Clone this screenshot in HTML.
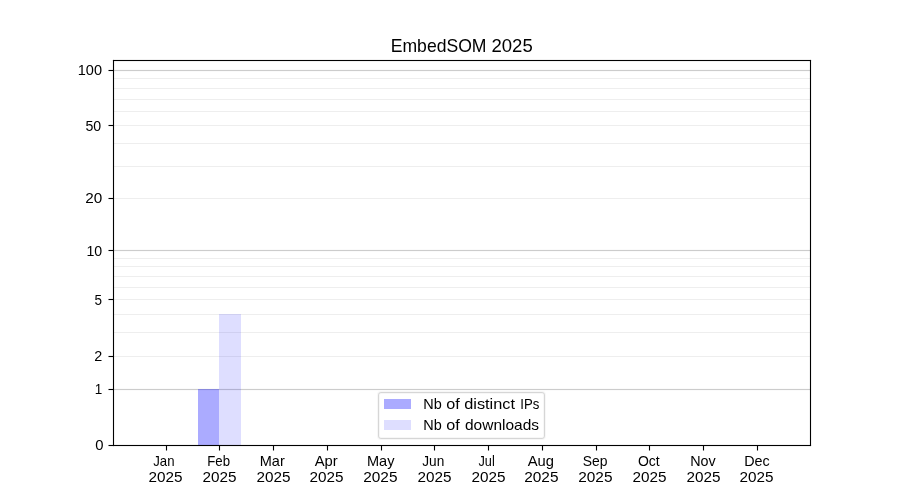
<!DOCTYPE html>
<html lang="en">
<head>
<meta charset="utf-8">
<title>EmbedSOM 2025</title>
<style>
html,body{margin:0;padding:0;background:#ffffff;}
body{width:900px;height:500px;overflow:hidden;font-family:"Liberation Sans",sans-serif;}
svg{display:block;will-change:transform;}
svg text{font-family:"Liberation Sans",sans-serif;fill:#000000;}
.txt{filter:grayscale(1);}
</style>
</head>
<body>
<svg width="900" height="500" viewBox="0 0 900 500">
<rect x="0" y="0" width="900" height="500" fill="#ffffff"/>
<!-- minor gridlines (log1p y-scale) -->
<g stroke="#eeeeee" stroke-width="1" shape-rendering="crispEdges">
<line x1="113.5" x2="810.5" y1="356.5" y2="356.5"/>
<line x1="113.5" x2="810.5" y1="332.5" y2="332.5"/>
<line x1="113.5" x2="810.5" y1="314.5" y2="314.5"/>
<line x1="113.5" x2="810.5" y1="299.5" y2="299.5"/>
<line x1="113.5" x2="810.5" y1="287.5" y2="287.5"/>
<line x1="113.5" x2="810.5" y1="276.5" y2="276.5"/>
<line x1="113.5" x2="810.5" y1="266.5" y2="266.5"/>
<line x1="113.5" x2="810.5" y1="258.5" y2="258.5"/>
<line x1="113.5" x2="810.5" y1="198.5" y2="198.5"/>
<line x1="113.5" x2="810.5" y1="166.5" y2="166.5"/>
<line x1="113.5" x2="810.5" y1="143.5" y2="143.5"/>
<line x1="113.5" x2="810.5" y1="125.5" y2="125.5"/>
<line x1="113.5" x2="810.5" y1="111.5" y2="111.5"/>
<line x1="113.5" x2="810.5" y1="99.5" y2="99.5"/>
<line x1="113.5" x2="810.5" y1="88.5" y2="88.5"/>
<line x1="113.5" x2="810.5" y1="78.5" y2="78.5"/>
</g>
<!-- major gridlines at 1, 10, 100 -->
<g stroke-width="1" shape-rendering="crispEdges">
<line x1="113.5" x2="810.5" y1="388.5" y2="388.5" stroke="#fbfbfb"/>
<line x1="113.5" x2="810.5" y1="389.5" y2="389.5" stroke="#cccccc"/>
<line x1="113.5" x2="810.5" y1="390.5" y2="390.5" stroke="#fbfbfb"/>
<line x1="113.5" x2="810.5" y1="249.5" y2="249.5" stroke="#fbfbfb"/>
<line x1="113.5" x2="810.5" y1="250.5" y2="250.5" stroke="#cccccc"/>
<line x1="113.5" x2="810.5" y1="251.5" y2="251.5" stroke="#fbfbfb"/>
<line x1="113.5" x2="810.5" y1="69.5" y2="69.5" stroke="#fbfbfb"/>
<line x1="113.5" x2="810.5" y1="70.5" y2="70.5" stroke="#cccccc"/>
<line x1="113.5" x2="810.5" y1="71.5" y2="71.5" stroke="#fbfbfb"/>
</g>
<!-- bars: Feb 2025 -->
<g shape-rendering="crispEdges" fill="#0000ff">
<rect x="198" y="389" width="21" height="56" fill-opacity="0.33"/>
<rect x="219" y="314" width="22" height="131" fill-opacity="0.13"/>
</g>
<!-- axes frame and ticks -->
<g fill="#000000">
<rect x="112.945" y="59.945" width="1.11" height="386.11"/>
<rect x="809.945" y="59.945" width="1.11" height="386.11"/>
<rect x="112.945" y="444.945" width="698.11" height="1.11"/>
<rect x="112.945" y="59.945" width="698.11" height="1.11"/>
<rect x="108.5" y="444.945" width="5" height="1.11"/>
<rect x="108.5" y="388.945" width="5" height="1.11"/>
<rect x="108.5" y="355.945" width="5" height="1.11"/>
<rect x="108.5" y="298.945" width="5" height="1.11"/>
<rect x="108.5" y="249.945" width="5" height="1.11"/>
<rect x="108.5" y="197.945" width="5" height="1.11"/>
<rect x="108.5" y="124.945" width="5" height="1.11"/>
<rect x="108.5" y="69.945" width="5" height="1.11"/>
<rect x="165.945" y="445.5" width="1.11" height="5"/>
<rect x="218.945" y="445.5" width="1.11" height="5"/>
<rect x="272.945" y="445.5" width="1.11" height="5"/>
<rect x="326.945" y="445.5" width="1.11" height="5"/>
<rect x="380.945" y="445.5" width="1.11" height="5"/>
<rect x="433.945" y="445.5" width="1.11" height="5"/>
<rect x="487.945" y="445.5" width="1.11" height="5"/>
<rect x="541.945" y="445.5" width="1.11" height="5"/>
<rect x="595.945" y="445.5" width="1.11" height="5"/>
<rect x="648.945" y="445.5" width="1.11" height="5"/>
<rect x="702.945" y="445.5" width="1.11" height="5"/>
<rect x="756.945" y="445.5" width="1.11" height="5"/>
</g>
<!-- legend -->
<rect x="378.5" y="392.5" width="166" height="46" rx="2.4" ry="2.4" fill="#ffffff" fill-opacity="0.8" stroke="#cccccc" stroke-opacity="0.157" stroke-width="3"/>
<rect x="378.5" y="392.5" width="166" height="46" rx="2.4" ry="2.4" fill="none" stroke="#cccccc" stroke-opacity="0.767" stroke-width="1"/>
<g shape-rendering="crispEdges" fill="#0000ff">
<rect x="384" y="399" width="27" height="10" fill-opacity="0.33"/>
<rect x="384" y="420" width="27" height="10" fill-opacity="0.13"/>
</g>
<!-- text -->
<g class="txt">
<text><tspan x="390.75" y="52.00" font-size="18.10" textLength="95.75" lengthAdjust="spacingAndGlyphs">EmbedSOM</tspan> <tspan x="491.50" y="52.00" font-size="18.10" textLength="41.25" lengthAdjust="spacingAndGlyphs">2025</tspan></text>
<text x="95.25" y="450.00" font-size="14.20" textLength="8.25" lengthAdjust="spacingAndGlyphs">0</text>
<text x="94.75" y="394.00" font-size="14.20" textLength="7.50" lengthAdjust="spacingAndGlyphs">1</text>
<text x="94.25" y="361.00" font-size="14.20" textLength="8.00" lengthAdjust="spacingAndGlyphs">2</text>
<text x="94.50" y="305.00" font-size="14.20" textLength="7.50" lengthAdjust="spacingAndGlyphs">5</text>
<text x="86.50" y="256.00" font-size="14.20" textLength="15.75" lengthAdjust="spacingAndGlyphs">10</text>
<text x="85.25" y="203.00" font-size="14.20" textLength="17.00" lengthAdjust="spacingAndGlyphs">20</text>
<text x="85.50" y="131.00" font-size="14.20" textLength="15.75" lengthAdjust="spacingAndGlyphs">50</text>
<text x="77.75" y="75.00" font-size="14.20" textLength="24.25" lengthAdjust="spacingAndGlyphs">100</text>
<text x="153.25" y="466.00" font-size="14.20" textLength="21.25" lengthAdjust="spacingAndGlyphs">Jan</text>
<text x="148.50" y="482.00" font-size="14.20" textLength="34.00" lengthAdjust="spacingAndGlyphs">2025</text>
<text x="207.25" y="466.00" font-size="14.20" textLength="22.75" lengthAdjust="spacingAndGlyphs">Feb</text>
<text x="202.50" y="482.00" font-size="14.20" textLength="34.00" lengthAdjust="spacingAndGlyphs">2025</text>
<text x="259.75" y="466.00" font-size="14.20" textLength="25.00" lengthAdjust="spacingAndGlyphs">Mar</text>
<text x="256.50" y="482.00" font-size="14.20" textLength="34.00" lengthAdjust="spacingAndGlyphs">2025</text>
<text x="314.75" y="466.00" font-size="14.20" textLength="23.00" lengthAdjust="spacingAndGlyphs">Apr</text>
<text x="309.50" y="482.00" font-size="14.20" textLength="34.00" lengthAdjust="spacingAndGlyphs">2025</text>
<text x="367.00" y="466.00" font-size="14.20" textLength="27.50" lengthAdjust="spacingAndGlyphs">May</text>
<text x="363.25" y="482.00" font-size="14.20" textLength="34.25" lengthAdjust="spacingAndGlyphs">2025</text>
<text x="422.25" y="466.00" font-size="14.20" textLength="22.00" lengthAdjust="spacingAndGlyphs">Jun</text>
<text x="417.50" y="482.00" font-size="14.20" textLength="34.00" lengthAdjust="spacingAndGlyphs">2025</text>
<text x="478.50" y="466.00" font-size="14.20" textLength="16.25" lengthAdjust="spacingAndGlyphs">Jul</text>
<text x="471.50" y="482.00" font-size="14.20" textLength="34.00" lengthAdjust="spacingAndGlyphs">2025</text>
<text x="527.75" y="466.00" font-size="14.20" textLength="26.25" lengthAdjust="spacingAndGlyphs">Aug</text>
<text x="524.25" y="482.00" font-size="14.20" textLength="34.25" lengthAdjust="spacingAndGlyphs">2025</text>
<text x="582.75" y="466.00" font-size="14.20" textLength="24.75" lengthAdjust="spacingAndGlyphs">Sep</text>
<text x="578.25" y="482.00" font-size="14.20" textLength="34.25" lengthAdjust="spacingAndGlyphs">2025</text>
<text x="638.00" y="466.00" font-size="14.20" textLength="21.75" lengthAdjust="spacingAndGlyphs">Oct</text>
<text x="632.50" y="482.00" font-size="14.20" textLength="34.00" lengthAdjust="spacingAndGlyphs">2025</text>
<text x="690.25" y="466.00" font-size="14.20" textLength="25.50" lengthAdjust="spacingAndGlyphs">Nov</text>
<text x="686.50" y="482.00" font-size="14.20" textLength="34.00" lengthAdjust="spacingAndGlyphs">2025</text>
<text x="744.25" y="466.00" font-size="14.20" textLength="25.50" lengthAdjust="spacingAndGlyphs">Dec</text>
<text x="739.50" y="482.00" font-size="14.20" textLength="34.00" lengthAdjust="spacingAndGlyphs">2025</text>
<text><tspan x="423.25" y="409.00" font-size="14.20" textLength="18.50" lengthAdjust="spacingAndGlyphs">Nb</tspan> <tspan x="446.25" y="409.00" font-size="14.20" textLength="13.50" lengthAdjust="spacingAndGlyphs">of</tspan> <tspan x="464.25" y="409.00" font-size="14.20" textLength="50.75" lengthAdjust="spacingAndGlyphs">distinct</tspan> <tspan x="520.25" y="409.00" font-size="14.20" textLength="19.00" lengthAdjust="spacingAndGlyphs">IPs</tspan></text>
<text><tspan x="423.25" y="430.00" font-size="14.20" textLength="18.50" lengthAdjust="spacingAndGlyphs">Nb</tspan> <tspan x="446.25" y="430.00" font-size="14.20" textLength="13.50" lengthAdjust="spacingAndGlyphs">of</tspan> <tspan x="465.00" y="430.00" font-size="14.20" textLength="74.00" lengthAdjust="spacingAndGlyphs">downloads</tspan></text>
</g>
</svg>
</body>
</html>
